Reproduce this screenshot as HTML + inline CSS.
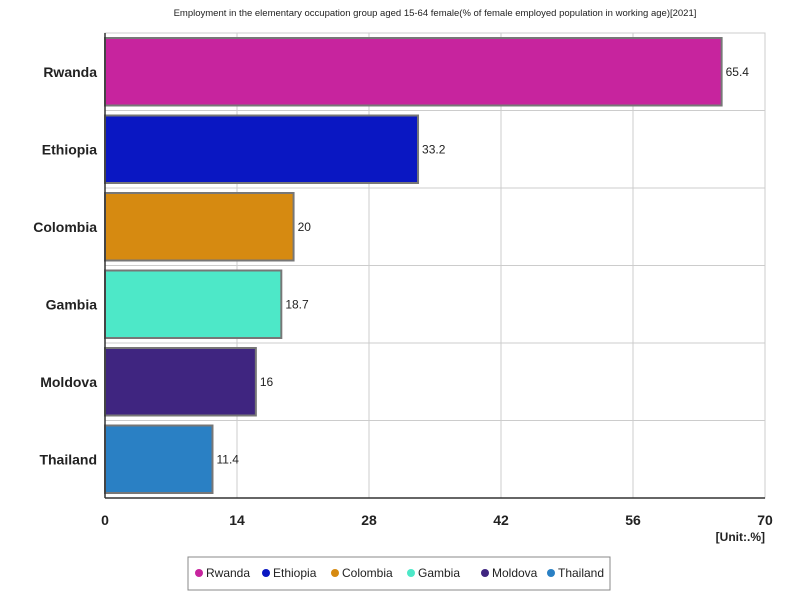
<!DOCTYPE html>
<html><head><meta charset="utf-8"><style>
body{margin:0;background:#fff;font-family:"Liberation Sans",sans-serif;}
svg text{font-family:"Liberation Sans",sans-serif;}
</style></head><body>
<svg id="c" width="800" height="600"></svg>
<script>
const categories=["Rwanda","Ethiopia","Colombia","Gambia","Moldova","Thailand"];
const values=[65.4,33.2,20,18.7,16,11.4];
const colors=["#c7249e","#0a17c2","#d68a11","#4de8c8","#3f2580","#2a80c4"];
const ticks=[0,14,28,42,56,70];
const NS="http://www.w3.org/2000/svg";
const svg=document.getElementById('c');
const L=105,R=765,T=33,B=498,MAX=70;
const x=v=>L+(v/MAX)*(R-L);
const band=(B-T)/categories.length;
const y=i=>T+i*band;
function mk(tag,attrs,txt){const e=document.createElementNS(NS,tag);for(const k in attrs)e.setAttribute(k,attrs[k]);if(txt!==undefined)e.textContent=txt;svg.appendChild(e);return e;}
let t=mk('text',{x:435,y:16,'text-anchor':'middle','font-size':9.5,fill:'#222'},'Employment in the elementary occupation group aged 15-64 female(% of female employed population in working age)[2021]');


let bg=mk('rect',{x:L,y:T,width:R-L,height:B-T,fill:'#fff',stroke:'#ccc'});


ticks.forEach(v=>{
 let g=mk('line',{x1:x(v),x2:x(v),y1:T,y2:B,stroke:'#ccc'});
 
 
 let l=mk('text',{x:x(v),y:B+27,'text-anchor':'middle','font-size':14,'font-weight':'bold',fill:'#222'},v);
 
 
});
for(let i=1;i<categories.length;i++){
 let g=mk('line',{x1:L,x2:R,y1:y(i),y2:y(i),stroke:'#ccc'});
 
 
}
categories.forEach((c,i)=>{
 let b=mk('rect',{x:L,y:y(i)+5,width:x(values[i])-L,height:band-10,fill:colors[i],stroke:'#777','stroke-width':2});
 
 
 let v=mk('text',{x:x(values[i])+4,y:y(i)+band/2+4,'font-size':12,fill:'#222'},values[i]);
 
 
 let l=mk('text',{x:L-8,y:y(i)+band/2+5,'text-anchor':'end','font-size':14,'font-weight':'bold',fill:'#222'},c);
 
 
});
let ax=mk('line',{x1:L,x2:R,y1:B,y2:B,stroke:'#333','stroke-width':1.5});


let ay=mk('line',{x1:L,x2:L,y1:T,y2:B,stroke:'#333','stroke-width':1.5});


let u=mk('text',{x:765,y:541,'text-anchor':'end','font-size':12,'font-weight':'bold',fill:'#222'},'[Unit:.%]');


let lb=mk('rect',{x:188,y:557,width:422,height:33,fill:'#fff',stroke:'#888'});


const lx=[195,262,331,407,481,547];
categories.forEach((c,i)=>{
 let d=mk('circle',{cx:lx[i]+4,cy:573,r:4,fill:colors[i]});
 
 
 let tt=mk('text',{x:lx[i]+11,y:577,'font-size':12,fill:'#222'},c);
 
 
});
</script>
</body></html>
